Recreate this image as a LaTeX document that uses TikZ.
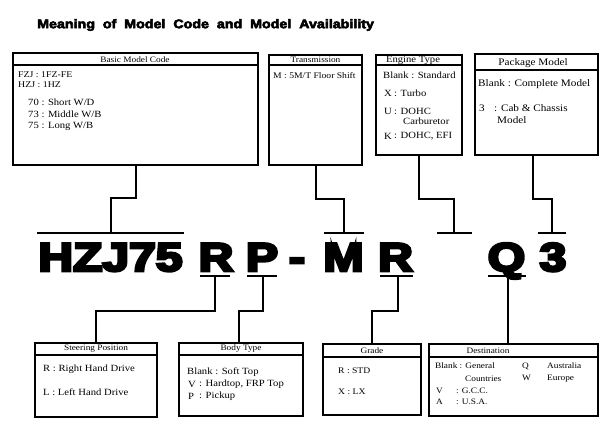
\documentclass[tikz,border=0pt]{standalone}
\usepackage{graphicx}
\usepackage{fontspec}
\setmainfont{Liberation Serif}[FakeStretch=1.12]
\newfontfamily\titlefont{Liberation Sans}
\newfontfamily\codefont{Liberation Sans}
\newcommand\cwide[1]{\scalebox{1.2}[1]{#1}}
\newcommand\heavycode[1]{\special{pdf:literal direct 2 Tr 2.6 w 0 G}#1\special{pdf:literal direct 0 Tr}}
\newcommand\heavytitle[1]{\special{pdf:literal direct 2 Tr 0.5 w 0 G}#1\special{pdf:literal direct 0 Tr}}
\begin{document}
\begin{tikzpicture}[x=1pt,y=-1pt,
  box/.style={draw, line width=2.4pt, rectangle, inner sep=0pt, outer sep=0pt},
  hline/.style={line width=2pt},
  hdr/.style={font=\fontsize{8.3}{9}\selectfont, inner sep=0pt},
  txt/.style={font=\fontsize{9.5}{10}\selectfont, anchor=west, inner sep=0pt},
  stxt/.style={font=\fontsize{8.3}{9}\selectfont, anchor=west, inner sep=0pt},
  conn/.style={line width=2pt},
  bar/.style={line width=2pt},
  code/.style={font=\codefont\bfseries\fontsize{40}{40}\selectfont, anchor=base, inner sep=0pt}]
\useasboundingbox[fill=white] (0,0) rectangle (600,425);

% title
\node[font=\titlefont\bfseries\fontsize{12.5}{14}\selectfont, anchor=west, inner sep=0pt] (title) at (37,25) {\scalebox{1.14}[1]{\heavytitle{Meaning\ \ of\ \ Model\ \ Code\ \ and\ \ Model\ \ Availability}}};

% ---------- top boxes ----------
\node[box, minimum width=245pt, minimum height=112pt] (basic) at (135.5,109) {};
\draw[hline] ([yshift=-12pt]basic.north west) -- ([yshift=-12pt]basic.north east);
\node[hdr] (basich) at (135,59.5) {Basic Model Code};
\node[stxt, font=\fontsize{8.8}{9}\selectfont] (b1) at (18,75) {FZJ : 1FZ-FE};
\node[stxt, font=\fontsize{8.8}{9}\selectfont] (b2) at (18,84.5) {HZJ : 1HZ};
\node[txt] (b3) at (28,102) {70 : Short W/D};
\node[txt] (b4) at (28,114) {73 : Middle W/B};
\node[txt] (b5) at (28,126) {75 : Long W/B};

\node[box, minimum width=93pt, minimum height=110pt] (trans) at (315.5,110) {};
\draw[hline] ([yshift=-10pt]trans.north west) -- ([yshift=-10pt]trans.north east);
\node[hdr] (transh) at (315.5,60) {Transmission};
\node[txt, font=\fontsize{8.6}{10}\selectfont] (t1) at (273,76) {M : 5M/T Floor Shift};

\node[box, minimum width=86pt, minimum height=100pt] (engine) at (419,105) {};
\draw[hline] ([yshift=-10pt]engine.north west) -- ([yshift=-10pt]engine.north east);
\node[hdr, font=\fontsize{9.5}{10}\selectfont] (engineh) at (413,60) {Engine Type};
\node[txt] (e1) at (383,75) {Blank : Standard};
\node[txt] (e2) at (384,93) {X};
\node[txt] (e2b) at (394,93) {: Turbo};
\node[txt] (e3) at (384,111) {U};
\node[txt] (e3b) at (394,111) {: DOHC};
\node[txt] (e4) at (403,121) {Carburetor};
\node[txt] (e5) at (384,136) {K};
\node[txt] (e5b) at (394,136) {: DOHC, EFI};

\node[box, minimum width=123pt, minimum height=101pt] (pkg) at (536.5,104.5) {};
\draw[hline] ([yshift=-16pt]pkg.north west) -- ([yshift=-16pt]pkg.north east);
\node[font=\fontsize{10}{11}\selectfont, inner sep=0pt] (pkgh) at (533,63) {Package Model};
\node[txt, font=\fontsize{10}{11}\selectfont] (p1) at (478,84) {Blank : Complete Model};
\node[txt, font=\fontsize{10}{11}\selectfont] (p2) at (479,108) {3};
\node[txt, font=\fontsize{10}{11}\selectfont] (p2b) at (494,108) {: Cab \& Chassis};
\node[txt, font=\fontsize{10}{11}\selectfont] (p3) at (497,120) {Model};

% ---------- code letters ----------
\node[code] (hzj) at (110.5,271) {\cwide{\heavycode{HZJ75}}};
\node[code] (r1) at (216,271) {\cwide{\heavycode{R}}};
\node[code] (p) at (262,271) {\cwide{\heavycode{P}}};
\node[code] (dash) at (297,271) {\cwide{\heavycode{-}}};
\node[code] (m) at (343.5,271) {\cwide{\heavycode{M}}};
\node[code] (r2) at (395.5,271) {\cwide{\heavycode{R}}};
\node[code] (q) at (506.5,271) {\cwide{\heavycode{Q}}};
\node[code] (three) at (553,271) {\cwide{\heavycode{3}}};

% bars above
\coordinate (hzjL) at (37,233);  \coordinate (hzjR) at (184,233);  \coordinate (hzjC) at (111,233);
\coordinate (mL) at (324,233);   \coordinate (mR) at (364,233);    \coordinate (mC) at (344,233);
\coordinate (engL) at (437,233); \coordinate (engR) at (472,233);  \coordinate (engC) at (454,233);
\coordinate (pkgL) at (538,233); \coordinate (pkgR) at (566,233);  \coordinate (pkgC) at (552,233);
\draw[bar] (hzjL) -- (hzjR);
\draw[bar] (mL) -- (mR);
\draw[bar] (engL) -- (engR);
\draw[bar] (pkgL) -- (pkgR);

% bars below
\coordinate (r1L) at (200,276); \coordinate (r1R) at (230,276); \coordinate (r1C) at (215,276);
\coordinate (pL) at (247,276);  \coordinate (pR) at (277,276);  \coordinate (pC) at (263,276);
\coordinate (r2L) at (380,276); \coordinate (r2R) at (413,276); \coordinate (r2C) at (398,276);
\coordinate (qL) at (488,276);  \coordinate (qR) at (526,276);  \coordinate (qC) at (508,276);
\draw[bar] (r1L) -- (r1R);
\draw[bar] (pL) -- (pR);
\draw[bar] (r2L) -- (r2R);
\draw[bar] (qL) -- (qR);

% ---------- bottom boxes ----------
\node[box, minimum width=122pt, minimum height=74pt] (steer) at (96,380) {};
\draw[hline] ([yshift=-12pt]steer.north west) -- ([yshift=-12pt]steer.north east);
\node[hdr] (steerh) at (96,349) {Steering Position};
\node[txt] (s1) at (43,369) {R : Right Hand Drive};
\node[txt] (s2) at (43,392) {L : Left Hand Drive};

\node[box, minimum width=124pt, minimum height=73pt] (body) at (241,379.5) {};
\draw[hline] ([yshift=-12pt]body.north west) -- ([yshift=-12pt]body.north east);
\node[hdr] (bodyh) at (241,349) {Body Type};
\node[txt] (y1) at (187,372) {Blank : Soft Top};
\node[txt] (y2) at (188,384) {V};
\node[txt] (y2b) at (199,384) {: Hardtop, FRP Top};
\node[txt] (y3) at (188,396) {P};
\node[txt] (y3b) at (199,396) {: Pickup};

\node[box, minimum width=98pt, minimum height=71pt] (grade) at (372,379.5) {};
\draw[hline] ([yshift=-13pt]grade.north west) -- ([yshift=-13pt]grade.north east);
\node[hdr] (gradeh) at (372,350.5) {Grade};
\node[txt, font=\fontsize{8.6}{10}\selectfont] (g1) at (338,371) {R : STD};
\node[txt, font=\fontsize{8.6}{10}\selectfont] (g2) at (338,392) {X : LX};

\node[box, minimum width=169pt, minimum height=72pt] (dest) at (513.5,380) {};
\draw[hline] ([yshift=-13pt]dest.north west) -- ([yshift=-13pt]dest.north east);
\node[hdr] (desth) at (488,350.5) {Destination};
\node[stxt] (d1) at (435,366) {Blank : General};
\node[stxt] (d2) at (465,379) {Countries};
\node[stxt] (d3) at (436,391) {V};
\node[stxt] (d3b) at (456,391) {: G.C.C.};
\node[stxt] (d4) at (436,402) {A};
\node[stxt] (d4b) at (456,402) {: U.S.A.};
\node[stxt] (d5) at (522,366) {Q};
\node[stxt] (d6) at (522,378) {W};
\node[stxt] (d7) at (547,366) {Australia};
\node[stxt] (d8) at (547,379) {Europe};

% ---------- connectors ----------
\draw[conn] (basic.south) -- ++(0,33) -| (hzjC);
\draw[conn] (trans.south) -- ++(0,34) -| (mC);
\draw[conn] (engine.south) -- ++(0,44) -| (engC);
\draw[conn] (pkg.south -| 533,0) -- (533,199) -| (pkgC);

\draw[conn] (r1C) -- ++(0,35) -| (steer.north);
\draw[conn] (pC) -- ++(0,35) -| (body.north -| 239,0);
\draw[conn] (r2C) -- ++(0,35) -| (grade.north);
\draw[conn] (qC) -- (qC |- dest.north);
\end{tikzpicture}
\end{document}
